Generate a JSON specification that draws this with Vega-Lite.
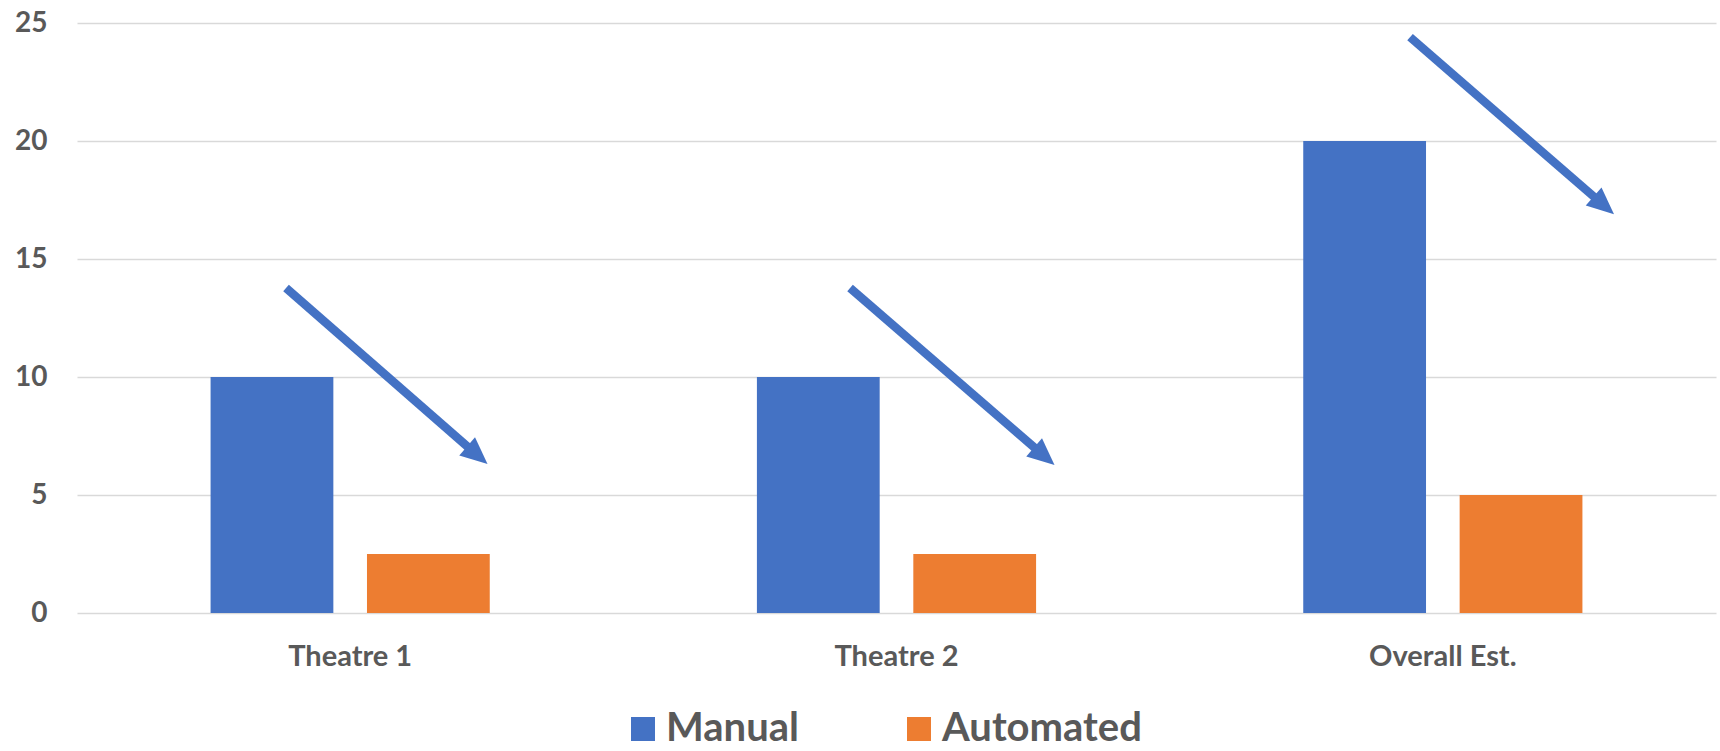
{
  "$schema": "https://vega.github.io/schema/vega-lite/v6.json",
  "width": 1639,
  "height": 590,
  "autosize": "none",
  "padding": {"left": 77, "top": 23, "right": 4, "bottom": 138},
  "background": "white",
  "config": {
    "view": {"stroke": null},
    "font": "Lato",
    "axis": {"labelFont": "Lato", "labelFontWeight": "bold", "labelColor": "#595959"},
    "legend": {"labelFont": "Lato", "labelFontWeight": "bold", "labelColor": "#595959"}
  },
  "layer": [
    {
      "data": {
        "values": [
          {"category": "Theatre 1", "method": "Manual", "value": 10},
          {"category": "Theatre 1", "method": "Automated", "value": 2.5},
          {"category": "Theatre 2", "method": "Manual", "value": 10},
          {"category": "Theatre 2", "method": "Automated", "value": 2.5},
          {"category": "Overall Est.", "method": "Manual", "value": 20},
          {"category": "Overall Est.", "method": "Automated", "value": 5}
        ]
      },
      "mark": {"type": "bar"},
      "encoding": {
        "x": {
          "field": "category",
          "type": "nominal",
          "sort": ["Theatre 1", "Theatre 2", "Overall Est."],
          "scale": {"paddingInner": 0.489, "paddingOuter": 0.2445},
          "axis": {
            "title": null,
            "labelAngle": 0,
            "labelFontSize": 29,
            "labelPadding": 29,
            "labelLimit": 0,
            "domain": false,
            "ticks": false,
            "grid": false
          }
        },
        "xOffset": {
          "field": "method",
          "type": "nominal",
          "sort": ["Manual", "Automated"],
          "scale": {"paddingInner": 0.215}
        },
        "y": {
          "field": "value",
          "type": "quantitative",
          "scale": {"domain": [0, 25], "nice": false},
          "axis": {
            "title": null,
            "values": [0, 5, 10, 15, 20, 25],
            "labelFontSize": 28,
            "labelPadding": 30,
            "domain": false,
            "ticks": false,
            "grid": true,
            "gridColor": "#d9d9d9",
            "gridWidth": 1.5
          }
        },
        "color": {
          "field": "method",
          "type": "nominal",
          "scale": {"domain": ["Manual", "Automated"], "range": ["#4472C4", "#ED7D31"]},
          "legend": {
            "title": null,
            "orient": "none",
            "direction": "horizontal",
            "legendX": 546,
            "legendY": 686,
            "symbolType": "square",
            "symbolSize": 576,
            "symbolStrokeWidth": 0,
            "labelFontSize": 40,
            "labelOffset": 3,
            "labelLimit": 0,
            "columnPadding": 100
          }
        }
      }
    },
    {
      "data": {
        "values": [
          {"arrow": "Theatre 1", "x_start": 0.3826, "y_start": 13.77, "x_end": 0.7166, "y_end": 7.01},
          {"arrow": "Theatre 2", "x_start": 1.415, "y_start": 13.77, "x_end": 1.7544, "y_end": 6.97},
          {"arrow": "Overall Est.", "x_start": 2.44, "y_start": 24.4, "x_end": 2.7785, "y_end": 17.6}
        ]
      },
      "layer": [
        {
          "mark": {"type": "rule", "color": "#4472C4", "strokeWidth": 8.5, "strokeCap": "butt"},
          "encoding": {
            "x": {"field": "x_start", "type": "quantitative", "scale": {"domain": [0, 3], "nice": false, "zero": true}, "axis": null},
            "y": {"field": "y_start", "type": "quantitative"},
            "x2": {"field": "x_end"},
            "y2": {"field": "y_end"}
          }
        },
        {
          "mark": {
            "type": "point",
            "shape": "M0,-2.1L1,0.15L-1,0.15Z",
            "filled": true,
            "opacity": 1,
            "color": "#4472C4",
            "size": 576,
            "angle": 131
          },
          "encoding": {
            "x": {"field": "x_end", "type": "quantitative", "scale": {"domain": [0, 3], "nice": false, "zero": true}, "axis": null},
            "y": {"field": "y_end", "type": "quantitative"}
          }
        }
      ]
    }
  ],
  "resolve": {"scale": {"x": "independent", "xOffset": "independent"}, "axis": {"x": "independent"}}
}
